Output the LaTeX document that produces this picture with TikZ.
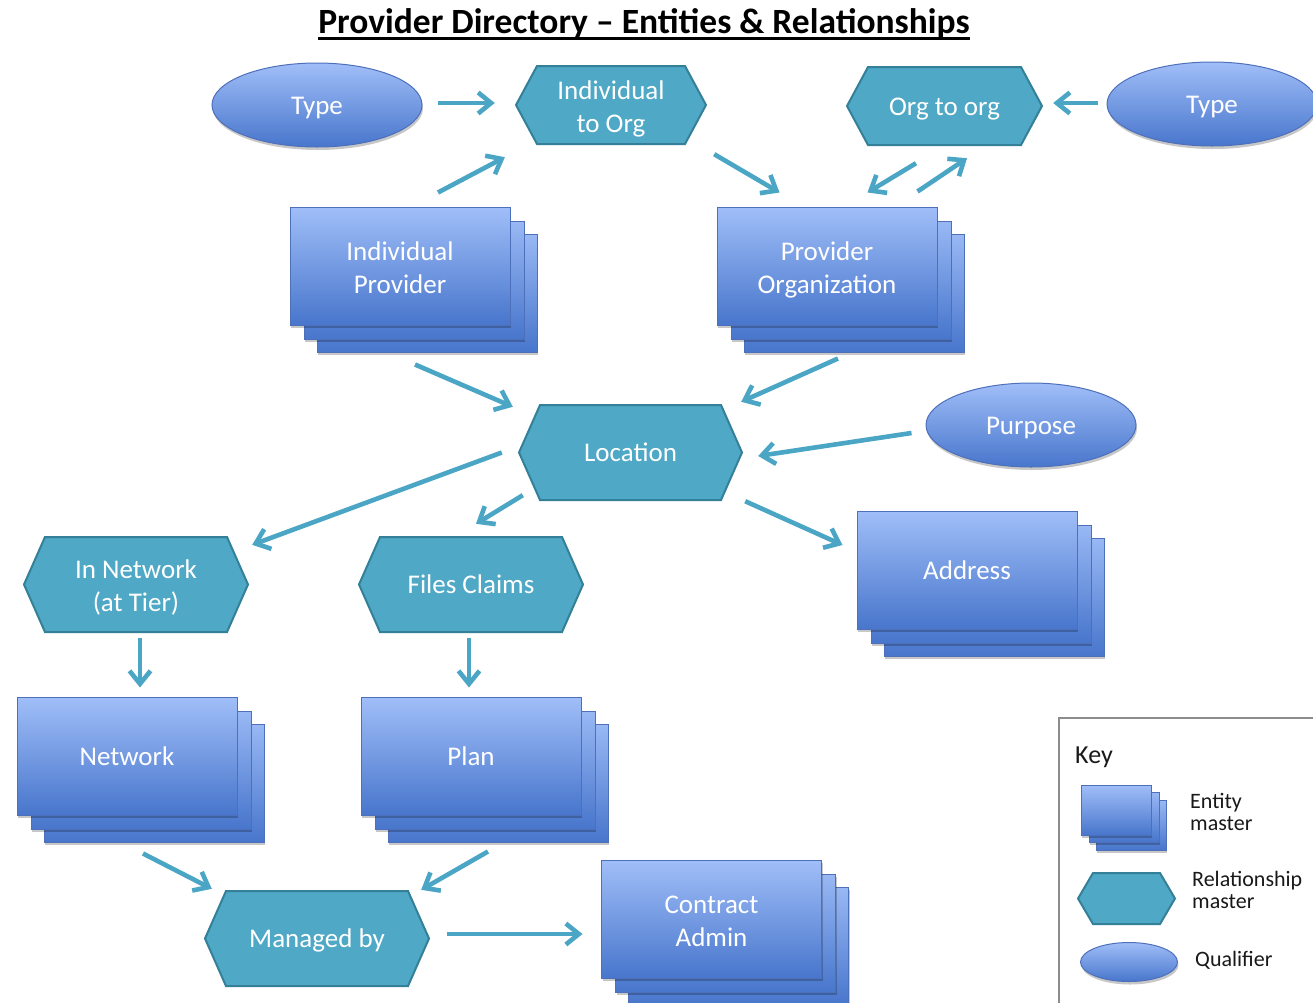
\documentclass[tikz,border=0pt]{standalone}
\usepackage{fontspec}
\setmainfont{Carlito}
\usetikzlibrary{shapes.geometric,arrows.meta,shadows}
\definecolor{entTop}{RGB}{160,190,248}
\definecolor{entBot}{RGB}{72,118,204}
\definecolor{entLine}{RGB}{78,112,186}
\definecolor{hexFill}{RGB}{79,168,197}
\definecolor{hexLine}{RGB}{52,128,152}
\definecolor{arrCol}{RGB}{75,165,196}
\definecolor{keyText}{RGB}{25,25,25}
\def\hexinset{22}
\newcommand\lblstrut{\rule[-5.5pt]{0pt}{29.5pt}}
\newcommand\fl{\rule{0pt}{27pt}}
\tikzset{
  lbl/.style={text=white, font=\fontsize{27}{33}\selectfont, align=center,
    execute at begin node=\lblstrut, execute at end node=\lblstrut},
  softshadow/.style={drop shadow={shadow xshift=1pt, shadow yshift=-3pt, opacity=0.22, fill=black}},
  entshape/.style={rectangle, minimum width=220pt, minimum height=118pt, inner sep=0pt,
    top color=entTop, bottom color=entBot, draw=entLine, line width=1pt, softshadow},
  entbox/.style={entshape, lbl},
  entback/.style={top color=entTop!92!entBot, bottom color=entBot, draw=entLine, line width=1pt, softshadow},
  qualshape/.style={ellipse, minimum width=210pt, minimum height=84pt, inner sep=0pt,
    top color=entTop, bottom color=entBot, draw=entLine, line width=1pt, softshadow},
  qualnode/.style={qualshape, lbl},
  hexinset/.code={\def\hexinset{#1}},
  hexshape/.style 2 args={rectangle, minimum width=#1, minimum height=#2, inner sep=0pt,
    path picture={
      \draw[fill=hexFill, draw=hexLine, line width=2pt, line join=miter]
        ([xshift=\hexinset pt, yshift=-1pt]path picture bounding box.north west)
        -- ([xshift=-\hexinset pt, yshift=-1pt]path picture bounding box.north east)
        -- ([xshift=-1pt]path picture bounding box.east)
        -- ([xshift=-\hexinset pt, yshift=1pt]path picture bounding box.south east)
        -- ([xshift=\hexinset pt, yshift=1pt]path picture bounding box.south west)
        -- ([xshift=1pt]path picture bounding box.west) -- cycle;}},
  relnode/.style 2 args={hexshape={#1}{#2}, lbl},
  arr/.style={draw=arrCol, line width=4.6pt, -{Straight Barb[length=13pt,width=21pt]}},
  keytxt/.style={text=keyText, inner sep=0pt},
}
\newcommand\entstack[4]{%
  \path[entback] (#2-110+27, #3-59+27) rectangle (#2+110+27, #3+59+27);
  \path[entback] (#2-110+14, #3-59+14) rectangle (#2+110+14, #3+59+14);
  \node[entbox] (#1) at (#2,#3) {#4};}
\newcommand\conn[6]{\draw[arr] ([xshift=#2pt,yshift=#3pt]#1) -- ([xshift=#5pt,yshift=#6pt]#4);}
\begin{document}
\begin{tikzpicture}[x=1pt,y=-1pt]
\useasboundingbox (0,0) rectangle (1313,1002);
\fill[white] (0,0) rectangle (1313,1002);

% title
\node[inner sep=0pt, font=\bfseries\fontsize{35.5}{40}\selectfont] (title) at (644,24) {Provider Directory – Entities \& Relationships};
\draw[line width=2.5pt] ([yshift=-5pt]title.base west) -- ([yshift=-5pt]title.base east);

% qualifiers
\node[qualnode] (t1) at (317,105) {Type};
\node[qualnode] (t2) at (1212,104) {Type};
\node[qualnode] (pur) at (1031,425) {Purpose};

% relationship masters
\node[relnode={192pt}{80pt}] (i2o) at (611,105) {\fl Individual\\to Org};
\node[relnode={197pt}{80pt}] (o2o) at (944.5,106) {Org to org};
\node[relnode={225pt}{97pt}] (loc) at (630.5,452.5) {Location};
\node[relnode={226pt}{97pt}] (innet) at (136,584.5) {\fl In Network\\(at Tier)};
\node[relnode={226pt}{97pt}] (fc) at (471,584.5) {Files Claims};
\node[relnode={226pt}{97pt}] (mb) at (317,938.5) {Managed by};

% entity masters
\entstack{ip}{400}{266}{\fl Individual\\Provider}
\entstack{po}{827}{266}{\fl Provider\\Organization}
\entstack{addr}{967}{570}{Address}
\entstack{net}{127}{756}{Network}
\entstack{plan}{471}{756}{Plan}
\entstack{ca}{711.5}{919}{\fl Contract\\Admin}

% connectors
\conn{t1.east}{15}{2}{i2o.west}{-20}{2}
\conn{ip.north}{38}{14}{i2o.south west}{-10}{-12}
\conn{i2o.south east}{7}{-9}{po.north west}{63}{14}
\conn{po.north east}{-20}{15}{o2o.south}{22.5}{-12}
\conn{o2o.south}{-28.5}{-17}{po.north east}{-70}{14}
\conn{t2.west}{-9}{1}{o2o.east}{10}{3}
\conn{ip.south}{15}{-39}{loc.north west}{-5}{-3}
\conn{po.south}{11}{-33}{loc.north east}{-2}{2}
\conn{pur.west}{-14}{-8}{loc.east}{15}{-3.5}
\conn{loc.west}{-16}{0}{innet.north east}{3}{-9}
\conn{loc.south west}{5}{6}{fc.north}{5}{12}
\conn{loc.south east}{2}{0}{addr.west}{-14}{25}
\conn{innet.south}{4}{-5}{net.north}{13}{9}
\conn{fc.south}{-2}{-5}{plan.north}{-2}{9}
\conn{net.south}{16}{-38}{mb.north west}{8}{1}
\conn{plan.south}{17}{-36}{mb.north east}{-9}{0}
\conn{mb.east}{17}{4.5}{ca.west}{-18.5}{-15}

% key
\draw[black!45, line width=1.5pt] (1059,718) rectangle (1330,1020);
\node[keytxt, anchor=base west, font=\fontsize{26}{30}\selectfont] (keyttl) at (1075,763) {Key};
\path[entback] (1081+15,785+15) rectangle (1151+15,835+15);
\path[entback] (1081+8,785+7) rectangle (1151+8,835+7);
\node[entshape, minimum width=70pt, minimum height=50pt] (kent) at (1116,810) {};
\node[hexshape={99pt}{53pt}, hexinset=16] (khex) at (1126.5,898.5) {};
\node[qualshape, minimum width=97pt, minimum height=39pt] (kqual) at (1129,962) {};
\node[keytxt, anchor=west, align=left, font=\fontsize{22}{22}\selectfont] (k1) at (1190,812) {Entity\\master};
\node[keytxt, anchor=west, align=left, font=\fontsize{22}{22}\selectfont] (k2) at (1192,890) {Relationship\\master};
\node[keytxt, anchor=west, align=left, font=\fontsize{22}{22}\selectfont] (k3) at (1195,960) {Qualifier};
\end{tikzpicture}
\end{document}
